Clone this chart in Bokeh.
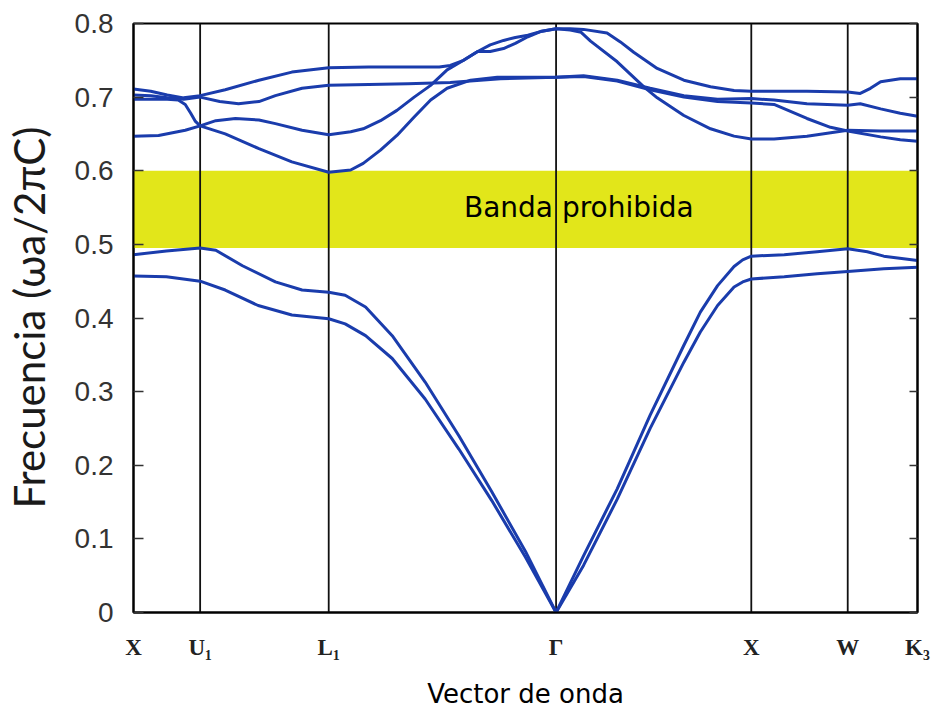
from bokeh.plotting import figure
from bokeh.models import (Range1d, FixedTicker, LinearAxis, Span, BoxAnnotation,
                          Label, CustomLabelingPolicy)
from bokeh.embed import file_html
from bokeh.resources import INLINE

# High-symmetry points along the k-path (path coordinate 0..1)
sym_labels = ["X", "U₁", "L₁", "Γ", "X", "W", "K₃"]
sym_k = [0.0, 0.085, 0.249, 0.539, 0.788, 0.911, 1.0]

# Frequency ticks (ωa/2πc)
freq_ticks = [0.0, 0.1, 0.2, 0.3, 0.4, 0.5, 0.6, 0.7, 0.8]

# Photonic band gap limits
gap_low = 0.495
gap_high = 0.600

# Band 1 (lowest)
band1_k = [0.000, 0.042, 0.085, 0.117, 0.159, 0.202, 0.249, 0.270, 0.296, 0.330,
           0.372, 0.415, 0.457, 0.500, 0.539, 0.574, 0.617, 0.659, 0.702, 0.723,
           0.745, 0.766, 0.777, 0.788, 0.830, 0.872, 0.911, 0.957, 1.000]
band1_f = [0.457, 0.456, 0.450, 0.438, 0.417, 0.404, 0.399, 0.392, 0.376, 0.345,
           0.290, 0.222, 0.152, 0.075, 0.000, 0.064, 0.154, 0.250, 0.340, 0.381,
           0.417, 0.442, 0.449, 0.453, 0.456, 0.460, 0.463, 0.467, 0.469]

# Band 2
band2_k = [0.000, 0.042, 0.085, 0.105, 0.139, 0.181, 0.215, 0.249, 0.270, 0.296,
           0.330, 0.372, 0.415, 0.457, 0.500, 0.539, 0.574, 0.617, 0.659, 0.702,
           0.723, 0.745, 0.766, 0.777, 0.788, 0.830, 0.872, 0.911, 0.936, 0.957,
           1.000]
band2_f = [0.486, 0.491, 0.495, 0.492, 0.471, 0.449, 0.438, 0.435, 0.431, 0.415,
           0.376, 0.313, 0.240, 0.164, 0.083, 0.000, 0.077, 0.168, 0.268, 0.363,
           0.408, 0.444, 0.470, 0.479, 0.484, 0.486, 0.490, 0.494, 0.490, 0.484,
           0.478]

# Band 3
band3_k = [0.000, 0.022, 0.043, 0.057, 0.066, 0.073, 0.079, 0.085, 0.117, 0.160,
           0.202, 0.249, 0.277, 0.293, 0.315, 0.336, 0.358, 0.379, 0.400, 0.430,
           0.464, 0.539, 0.574, 0.617, 0.659, 0.702, 0.745, 0.788, 0.817, 0.859,
           0.889, 0.911, 0.953, 0.978, 1.000]
band3_f = [0.697, 0.697, 0.697, 0.696, 0.690, 0.678, 0.667, 0.661, 0.650, 0.630,
           0.612, 0.598, 0.601, 0.610, 0.628, 0.648, 0.673, 0.696, 0.712, 0.723,
           0.727, 0.727, 0.728, 0.722, 0.710, 0.700, 0.694, 0.692, 0.690, 0.671,
           0.659, 0.654, 0.646, 0.642, 0.640]

# Band 4
band4_k = [0.000, 0.032, 0.066, 0.085, 0.105, 0.130, 0.160, 0.181, 0.215, 0.249,
           0.277, 0.293, 0.315, 0.336, 0.358, 0.379, 0.400, 0.421, 0.439, 0.455,
           0.472, 0.487, 0.503, 0.519, 0.539, 0.557, 0.571, 0.583, 0.617, 0.651,
           0.668, 0.702, 0.736, 0.766, 0.788, 0.817, 0.859, 0.911, 0.953, 1.000]
band4_f = [0.647, 0.648, 0.655, 0.661, 0.668, 0.671, 0.669, 0.664, 0.655, 0.649,
           0.653, 0.657, 0.668, 0.682, 0.700, 0.716, 0.737, 0.750, 0.762, 0.771,
           0.777, 0.781, 0.784, 0.789, 0.793, 0.791, 0.788, 0.776, 0.748, 0.714,
           0.699, 0.675, 0.657, 0.647, 0.643, 0.643, 0.647, 0.655, 0.654, 0.654]

# Band 5
band5_k = [0.000, 0.022, 0.043, 0.064, 0.085, 0.110, 0.134, 0.160, 0.181, 0.215,
           0.249, 0.300, 0.350, 0.404, 0.468, 0.539, 0.574, 0.617, 0.659, 0.702,
           0.745, 0.788, 0.817, 0.859, 0.911, 0.927, 0.953, 0.978, 1.000]
band5_f = [0.703, 0.702, 0.699, 0.697, 0.700, 0.694, 0.691, 0.694, 0.702, 0.712,
           0.716, 0.717, 0.718, 0.720, 0.725, 0.727, 0.729, 0.723, 0.712, 0.702,
           0.697, 0.698, 0.696, 0.691, 0.689, 0.691, 0.684, 0.678, 0.674]

# Band 6
band6_k = [0.000, 0.022, 0.043, 0.064, 0.085, 0.117, 0.160, 0.202, 0.249, 0.300,
           0.350, 0.390, 0.404, 0.421, 0.439, 0.455, 0.472, 0.487, 0.503, 0.519,
           0.539, 0.557, 0.574, 0.604, 0.621, 0.638, 0.668, 0.702, 0.736, 0.766,
           0.788, 0.817, 0.859, 0.911, 0.927, 0.940, 0.953, 0.978, 1.000]
band6_f = [0.711, 0.708, 0.703, 0.699, 0.702, 0.710, 0.723, 0.734, 0.740, 0.741,
           0.741, 0.741, 0.743, 0.750, 0.762, 0.762, 0.766, 0.773, 0.782, 0.789,
           0.793, 0.793, 0.792, 0.787, 0.775, 0.761, 0.739, 0.723, 0.714, 0.709,
           0.708, 0.708, 0.708, 0.707, 0.705, 0.712, 0.721, 0.725, 0.725]

bands = [(band1_k, band1_f), (band2_k, band2_f), (band3_k, band3_f),
         (band4_k, band4_f), (band5_k, band5_f), (band6_k, band6_f)]

BAND_COLOR = "#1a3cac"
GAP_COLOR = "#e2e61a"

p = figure(width=949, height=711,
           x_range=Range1d(0, 1), y_range=Range1d(0, 0.8),
           output_backend="svg", toolbar_location=None,
           min_border_left=133, min_border_right=32,
           min_border_top=23, min_border_bottom=99)

p.background_fill_color = "white"
p.border_fill_color = "white"
p.grid.visible = False
p.outline_line_color = "black"
p.outline_line_width = 2

# band gap
p.add_layout(BoxAnnotation(bottom=gap_low, top=gap_high, fill_color=GAP_COLOR,
                           fill_alpha=1.0, line_alpha=0, level="underlay"))

# vertical lines at the interior high-symmetry points
for k in sym_k[1:-1]:
    p.add_layout(Span(location=k, dimension="height", line_color="#111111",
                      line_width=1.8, level="underlay"))

for ks, fs in bands:
    p.line(ks, fs, line_color=BAND_COLOR, line_width=3,
           line_join="round", line_cap="round")

# y axis (left)
ya = p.yaxis[0]
ya.ticker = FixedTicker(ticks=freq_ticks)
ya.major_label_overrides = {0: "0"}
ya.major_tick_in = 10
ya.major_tick_out = 0
ya.minor_tick_in = 0
ya.minor_tick_out = 0
ya.major_tick_line_color = "#333333"
ya.major_tick_line_width = 1.5
ya.axis_line_color = "black"
ya.axis_line_width = 2
ya.major_label_text_font = "Liberation Sans"
ya.major_label_text_font_size = "28px"
ya.major_label_text_color = "#333333"
ya.major_label_standoff = 20
ya.axis_label = "Frecuencia (ωa/2πC)"
ya.axis_label_text_font = "Lato"
ya.axis_label_text_font_size = "42px"
ya.axis_label_text_font_style = "normal"
ya.axis_label_text_color = "#1a1a1a"
ya.axis_label_standoff = 18

# y axis (right): inward ticks only, no labels
ra = LinearAxis(ticker=FixedTicker(ticks=freq_ticks))
ra.major_tick_in = 8
ra.major_tick_out = 0
ra.minor_tick_in = 0
ra.minor_tick_out = 0
ra.major_tick_line_color = "#333333"
ra.major_tick_line_width = 1.5
ra.axis_line_color = "black"
ra.axis_line_width = 2
ra.major_label_standoff = 0
ra.major_label_policy = CustomLabelingPolicy(code="""
    for (const i of indices)
        indices.unset(i)
    return indices
""")
p.add_layout(ra, "right")

# x axis: high-symmetry point names
xa = p.xaxis[0]
xa.ticker = FixedTicker(ticks=sym_k)
xa.major_label_overrides = {k: lbl for k, lbl in zip(sym_k, sym_labels)}
xa.major_tick_in = 0
xa.major_tick_out = 0
xa.minor_tick_in = 0
xa.minor_tick_out = 0
xa.axis_line_color = "black"
xa.axis_line_width = 2
xa.major_label_text_font = "Liberation Serif"
xa.major_label_text_font_style = "bold"
xa.major_label_text_font_size = "23px"
xa.major_label_text_color = "#222222"
xa.major_label_standoff = 22
xa.axis_label = "Vector de onda"
xa.axis_label_text_font = "DejaVu Sans"
xa.axis_label_text_font_size = "26px"
xa.axis_label_text_font_style = "normal"
xa.axis_label_text_color = "black"
xa.axis_label_standoff = 16

p.add_layout(Label(x=0.568, y=0.5496, text="Banda prohibida",
                   text_align="center", text_baseline="middle",
                   text_font="DejaVu Sans", text_font_size="28px",
                   text_color="black"))

open("out.html", "w").write(file_html(p, INLINE))
